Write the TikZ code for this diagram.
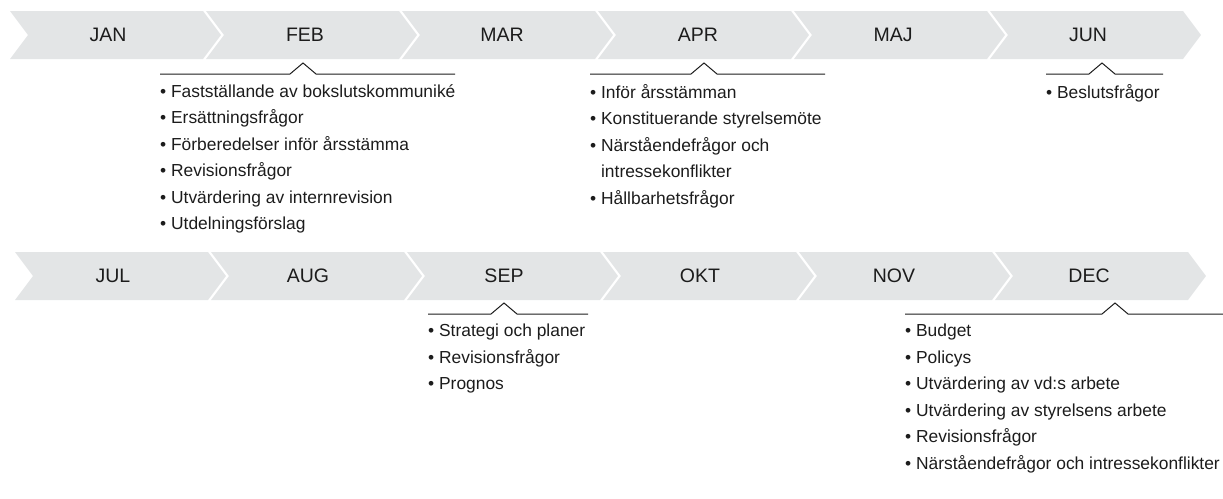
\documentclass[tikz,border=0pt]{standalone}
\usepackage{fontspec}
\setmainfont{Liberation Sans}
\definecolor{chevgray}{RGB}{227,229,230}
\definecolor{ink}{RGB}{28,28,28}
\tikzset{%
    chev/.style={fill=chevgray, draw=none},
    mon/.style={text=ink, inner sep=0pt, font=\fontsize{19.5}{20}\selectfont},
    brk/.style={line width=1pt, draw=ink},
    itm/.style={anchor=north west, align=left, inner sep=0pt, text=ink, font=\fontsize{17.4}{26.5}\selectfont},
}

\begin{document}
\begin{tikzpicture}[x=1pt, y=-1pt]
    \useasboundingbox (0,0) rectangle (1223,498);
    % first half
    \fill [chev] (10,11) -- ++(193,0) -- ++(18,24) -- ++(-18,24) -- ++(-193,0) -- ++(18,-24) -- cycle;
    \fill [chev] (206,11) -- ++(193,0) -- ++(18,24) -- ++(-18,24) -- ++(-193,0) -- ++(18,-24) -- cycle;
    \fill [chev] (402,11) -- ++(193,0) -- ++(18,24) -- ++(-18,24) -- ++(-193,0) -- ++(18,-24) -- cycle;
    \fill [chev] (598,11) -- ++(193,0) -- ++(18,24) -- ++(-18,24) -- ++(-193,0) -- ++(18,-24) -- cycle;
    \fill [chev] (794,11) -- ++(193,0) -- ++(18,24) -- ++(-18,24) -- ++(-193,0) -- ++(18,-24) -- cycle;
    \fill [chev] (990,11) -- ++(193,0) -- ++(18,24) -- ++(-18,24) -- ++(-193,0) -- ++(18,-24) -- cycle;
    \node [mon] (jan) at (108,35) {JAN};
    \node [mon] (feb) at (305,35) {FEB};
    \node [mon] (mar) at (502,35) {MAR};
    \node [mon] (apr) at (698,35) {APR};
    \node [mon] (maj) at (893,35) {MAJ};
    \node [mon] (jun) at (1088,35) {JUN};
    % second half
    \fill [chev] (15,252) -- ++(193,0) -- ++(18,24) -- ++(-18,24) -- ++(-193,0) -- ++(18,-24) -- cycle;
    \fill [chev] (211,252) -- ++(193,0) -- ++(18,24) -- ++(-18,24) -- ++(-193,0) -- ++(18,-24) -- cycle;
    \fill [chev] (407,252) -- ++(193,0) -- ++(18,24) -- ++(-18,24) -- ++(-193,0) -- ++(18,-24) -- cycle;
    \fill [chev] (603,252) -- ++(193,0) -- ++(18,24) -- ++(-18,24) -- ++(-193,0) -- ++(18,-24) -- cycle;
    \fill [chev] (799,252) -- ++(193,0) -- ++(18,24) -- ++(-18,24) -- ++(-193,0) -- ++(18,-24) -- cycle;
    \fill [chev] (995,252) -- ++(193,0) -- ++(18,24) -- ++(-18,24) -- ++(-193,0) -- ++(18,-24) -- cycle;
    \node [mon] (jul) at (113,276) {JUL};
    \node [mon] (aug) at (308,276) {AUG};
    \node [mon] (sep) at (504,276) {SEP};
    \node [mon] (okt) at (700,276) {OKT};
    \node [mon] (nov) at (894,276) {NOV};
    \node [mon] (dec) at (1089,276) {DEC};
    % brackets
    \draw [brk] (160,74) -- (290,74) -- ++(13,-11) -- ++(13,11) -- (455,74);
    \draw [brk] (590,74) -- (691,74) -- ++(13,-11) -- ++(13,11) -- (825,74);
    \draw [brk] (1046,74) -- (1089,74) -- ++(13,-11) -- ++(13,11) -- (1163,74);
    \draw [brk] (428,314) -- (491,314) -- ++(13,-11) -- ++(13,11) -- (588,314);
    \draw [brk] (905,314) -- (1102,314) -- ++(13,-11) -- ++(13,11) -- (1223,314);
    % lists
    \node [itm] (febl) at (160,84) {\textbullet\ Fastställande av bokslutskommuniké\\
        \textbullet\ Ersättningsfrågor\\
        \textbullet\ Förberedelser inför årsstämma\\
        \textbullet\ Revisionsfrågor\\
        \textbullet\ Utvärdering av internrevision\\
        \textbullet\ Utdelningsförslag};
    \node [itm] (aprl) at (590,84) {\textbullet\ Inför årsstämman\\
        \textbullet\ Konstituerande styrelsemöte\\
        \textbullet\ Närståendefrågor och\\
        \phantom{\textbullet\ }intressekonflikter\\
        \textbullet\ Hållbarhetsfrågor};
    \node [itm] (junl) at (1046,84) {\textbullet\ Beslutsfrågor};
    \node [itm] (sepl) at (428,324) {\textbullet\ Strategi och planer\\
        \textbullet\ Revisionsfrågor\\
        \textbullet\ Prognos};
    \node [itm] (decl) at (905,324) {\textbullet\ Budget\\
        \textbullet\ Policys\\
        \textbullet\ Utvärdering av vd:s arbete\\
        \textbullet\ Utvärdering av styrelsens arbete\\
        \textbullet\ Revisionsfrågor\\
        \textbullet\ Närståendefrågor och intressekonflikter};
\end{tikzpicture}
\end{document}
